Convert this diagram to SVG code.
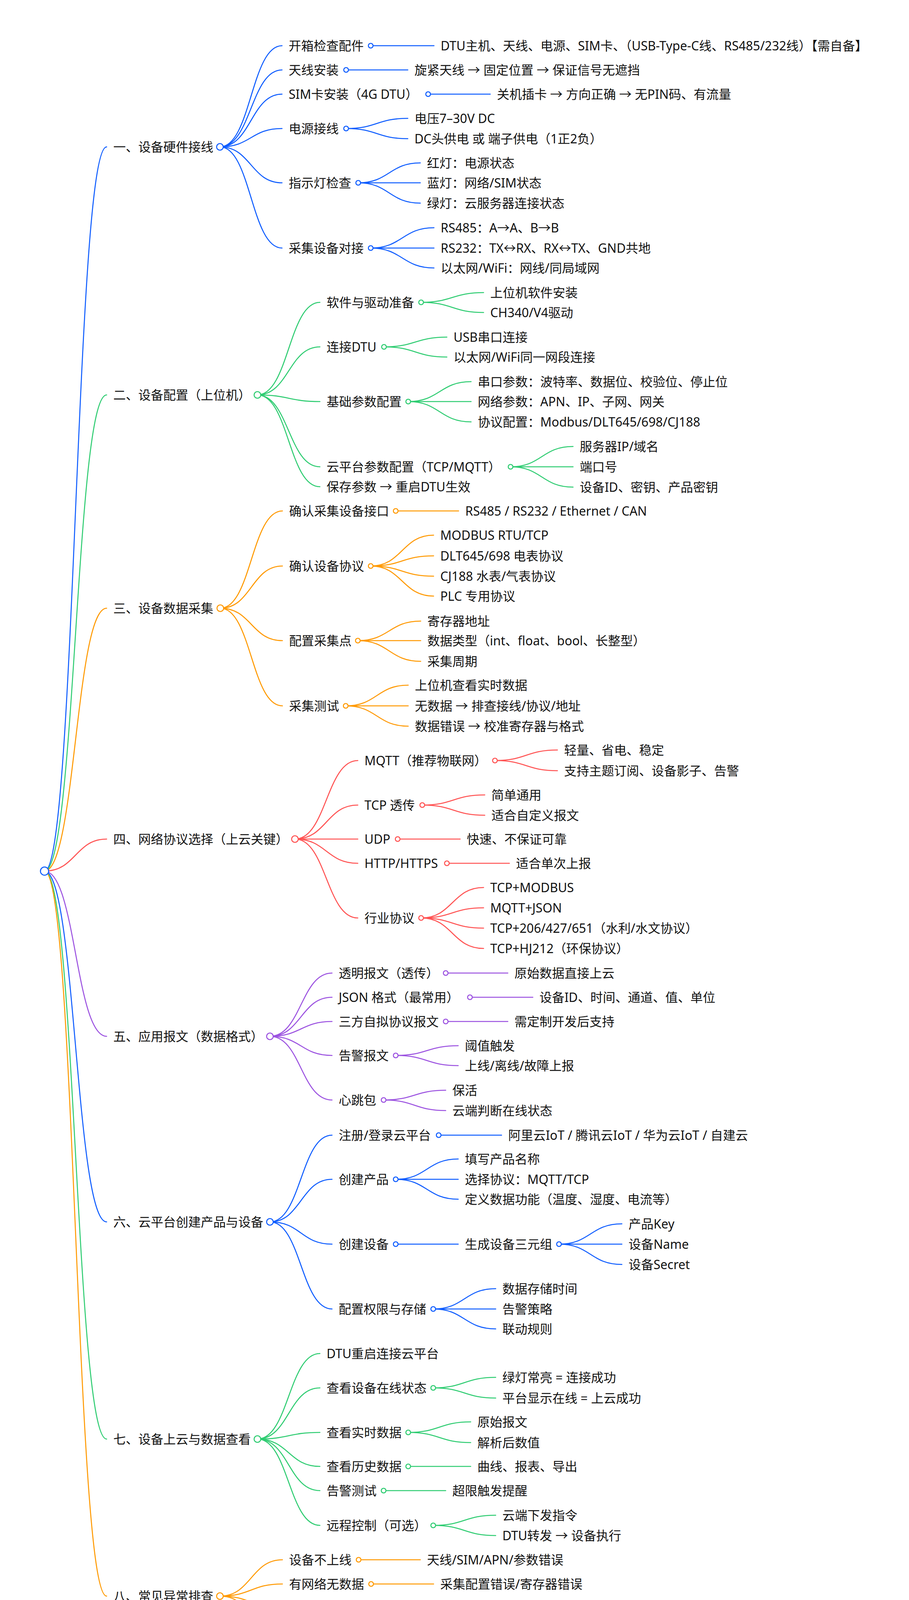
<svg xmlns="http://www.w3.org/2000/svg" width="2327" height="4296" viewBox="0 0 2327 4296">
<style>
text{font-family:"Noto Sans","Noto Sans CJK SC",sans-serif;font-size:32px;fill:#111}
path{fill:none;stroke-width:2.6;stroke-linecap:round}
circle{fill:#fff;stroke-width:2.6}
.b{stroke:#0d5cff}.g{stroke:#2ecc71}.o{stroke:#ff9900}.r{stroke:#ff5252}.p{stroke:#9b51e0}
</style>
<rect width="2327" height="4296" fill="#fff"/>
<g id="connectors">
<path class="b" d="M114 2230C193.5 2230 193.5 376 273 376"/>
<path class="g" d="M114 2230C193.5 2230 193.5 1011 273 1011"/>
<path class="o" d="M114 2230C193.5 2230 193.5 1557 273 1557"/>
<path class="r" d="M114 2230C193.5 2230 193.5 2148 273 2148"/>
<path class="p" d="M114 2230C193.5 2230 193.5 2653 273 2653"/>
<path class="b" d="M114 2230C193.5 2230 193.5 3128 273 3128"/>
<path class="g" d="M114 2230C193.5 2230 193.5 3684 273 3684"/>
<path class="o" d="M114 2230C193.5 2230 193.5 4086 273 4086"/>
<path class="b" d="M563 376C642.5 376 642.5 117 722 117"/>
<path class="b" d="M563 376C642.5 376 642.5 179 722 179"/>
<path class="b" d="M563 376C642.5 376 642.5 241 722 241"/>
<path class="b" d="M563 376C642.5 376 642.5 329 722 329"/>
<path class="b" d="M563 376C642.5 376 642.5 468 722 468"/>
<path class="b" d="M563 376C642.5 376 642.5 635 722 635"/>
<path class="b" d="M949 117H1111"/>
<path class="b" d="M886 179H1044"/>
<path class="b" d="M1096 241H1255"/>
<path class="b" d="M886 329C965 329 965 303 1044 303"/>
<path class="b" d="M886 329C965 329 965 355 1044 355"/>
<path class="b" d="M917 468C996.5 468 996.5 417 1076 417"/>
<path class="b" d="M917 468H1076"/>
<path class="b" d="M917 468C996.5 468 996.5 520 1076 520"/>
<path class="b" d="M949 635C1030 635 1030 583 1111 583"/>
<path class="b" d="M949 635H1111"/>
<path class="b" d="M949 635C1030 635 1030 686 1111 686"/>
<path class="g" d="M659 1011C739 1011 739 774 819 774"/>
<path class="g" d="M659 1011C739 1011 739 888 819 888"/>
<path class="g" d="M659 1011C739 1011 739 1028 819 1028"/>
<path class="g" d="M659 1011C739 1011 739 1195 819 1195"/>
<path class="g" d="M659 1011C739 1011 739 1246 819 1246"/>
<path class="g" d="M1078 774C1158 774 1158 749 1238 749"/>
<path class="g" d="M1078 774C1158 774 1158 800 1238 800"/>
<path class="g" d="M983 888C1063.5 888 1063.5 863 1144 863"/>
<path class="g" d="M983 888C1063.5 888 1063.5 914 1144 914"/>
<path class="g" d="M1045 1028C1125.5 1028 1125.5 977 1206 977"/>
<path class="g" d="M1045 1028H1206"/>
<path class="g" d="M1045 1028C1125.5 1028 1125.5 1080 1206 1080"/>
<path class="g" d="M1307 1195C1387 1195 1387 1143 1467 1143"/>
<path class="g" d="M1307 1195H1467"/>
<path class="g" d="M1307 1195C1387 1195 1387 1247 1467 1247"/>
<path class="o" d="M564 1557C643.5 1557 643.5 1308 723 1308"/>
<path class="o" d="M564 1557C643.5 1557 643.5 1449 723 1449"/>
<path class="o" d="M564 1557C643.5 1557 643.5 1640 723 1640"/>
<path class="o" d="M564 1557C643.5 1557 643.5 1807 723 1807"/>
<path class="o" d="M1013 1308H1174"/>
<path class="o" d="M949 1449C1029.5 1449 1029.5 1370 1110 1370"/>
<path class="o" d="M949 1449C1029.5 1449 1029.5 1423 1110 1423"/>
<path class="o" d="M949 1449C1029.5 1449 1029.5 1475 1110 1475"/>
<path class="o" d="M949 1449C1029.5 1449 1029.5 1526 1110 1526"/>
<path class="o" d="M916 1640C996.5 1640 996.5 1590 1077 1590"/>
<path class="o" d="M916 1640H1077"/>
<path class="o" d="M916 1640C996.5 1640 996.5 1693 1077 1693"/>
<path class="o" d="M885 1807C965 1807 965 1754 1045 1754"/>
<path class="o" d="M885 1807H1045"/>
<path class="o" d="M885 1807C965 1807 965 1859 1045 1859"/>
<path class="r" d="M755 2148C835.5 2148 835.5 1947 916 1947"/>
<path class="r" d="M755 2148C835.5 2148 835.5 2061 916 2061"/>
<path class="r" d="M755 2148H916"/>
<path class="r" d="M755 2148C835.5 2148 835.5 2210 916 2210"/>
<path class="r" d="M755 2148C835.5 2148 835.5 2350 916 2350"/>
<path class="r" d="M1267 1947C1347 1947 1347 1920 1427 1920"/>
<path class="r" d="M1267 1947C1347 1947 1347 1973 1427 1973"/>
<path class="r" d="M1081 2061C1161 2061 1161 2035 1241 2035"/>
<path class="r" d="M1081 2061C1161 2061 1161 2087 1241 2087"/>
<path class="r" d="M1018 2148H1178"/>
<path class="r" d="M1144 2210H1304"/>
<path class="r" d="M1078 2350C1158 2350 1158 2272 1238 2272"/>
<path class="r" d="M1078 2350C1158 2350 1158 2324 1238 2324"/>
<path class="r" d="M1078 2350C1158 2350 1158 2376 1238 2376"/>
<path class="r" d="M1078 2350C1158 2350 1158 2428 1238 2428"/>
<path class="p" d="M691 2653C770.5 2653 770.5 2491 850 2491"/>
<path class="p" d="M691 2653C770.5 2653 770.5 2553 850 2553"/>
<path class="p" d="M691 2653C770.5 2653 770.5 2615 850 2615"/>
<path class="p" d="M691 2653C770.5 2653 770.5 2702 850 2702"/>
<path class="p" d="M691 2653C770.5 2653 770.5 2816 850 2816"/>
<path class="p" d="M1141 2491H1300"/>
<path class="p" d="M1203 2553H1364"/>
<path class="p" d="M1141 2615H1300"/>
<path class="p" d="M1013 2702C1093 2702 1093 2677 1173 2677"/>
<path class="p" d="M1013 2702C1093 2702 1093 2728 1173 2728"/>
<path class="p" d="M982 2816C1061.5 2816 1061.5 2791 1141 2791"/>
<path class="p" d="M982 2816C1061.5 2816 1061.5 2843 1141 2843"/>
<path class="b" d="M691 3128C770.5 3128 770.5 2906 850 2906"/>
<path class="b" d="M691 3128C770.5 3128 770.5 3019 850 3019"/>
<path class="b" d="M691 3128C770.5 3128 770.5 3185 850 3185"/>
<path class="b" d="M691 3128C770.5 3128 770.5 3351 850 3351"/>
<path class="b" d="M1123 2906H1284"/>
<path class="b" d="M1013 3019C1093 3019 1093 2967 1173 2967"/>
<path class="b" d="M1013 3019H1173"/>
<path class="b" d="M1013 3019C1093 3019 1093 3070 1173 3070"/>
<path class="b" d="M1013 3185H1173"/>
<path class="b" d="M1431 3185C1511.5 3185 1511.5 3133 1592 3133"/>
<path class="b" d="M1431 3185H1592"/>
<path class="b" d="M1431 3185C1511.5 3185 1511.5 3237 1592 3237"/>
<path class="b" d="M1109 3351C1189 3351 1189 3299 1269 3299"/>
<path class="b" d="M1109 3351H1269"/>
<path class="b" d="M1109 3351C1189 3351 1189 3402 1269 3402"/>
<path class="g" d="M659 3684C739 3684 739 3465 819 3465"/>
<path class="g" d="M659 3684C739 3684 739 3553 819 3553"/>
<path class="g" d="M659 3684C739 3684 739 3667 819 3667"/>
<path class="g" d="M659 3684C739 3684 739 3754 819 3754"/>
<path class="g" d="M659 3684C739 3684 739 3816 819 3816"/>
<path class="g" d="M659 3684C739 3684 739 3905 819 3905"/>
<path class="g" d="M1109 3553C1189 3553 1189 3526 1269 3526"/>
<path class="g" d="M1109 3553C1189 3553 1189 3579 1269 3579"/>
<path class="g" d="M1045 3667C1125 3667 1125 3640 1205 3640"/>
<path class="g" d="M1045 3667C1125 3667 1125 3693 1205 3693"/>
<path class="g" d="M1045 3754H1205"/>
<path class="g" d="M982 3816H1141"/>
<path class="g" d="M1109 3905C1189 3905 1189 3879 1269 3879"/>
<path class="g" d="M1109 3905C1189 3905 1189 3931 1269 3931"/>
<path class="o" d="M563 4086C643 4086 643 3993 723 3993"/>
<path class="o" d="M563 4086C643 4086 643 4055 723 4055"/>
<path class="o" d="M563 4086C643 4086 643 4117 723 4117"/>
<path class="o" d="M563 4086C643 4086 643 4179 723 4179"/>
<path class="o" d="M918 3993H1076"/>
<path class="o" d="M950 4055H1110"/>
<path class="o" d="M885 4117H1044"/>
<path class="o" d="M885 4179H1044"/>
</g>

<g id="n0"><circle class="b" cx="114" cy="2230" r="10.5"/></g>

<g id="n1"><text x="290" y="388">一、设备硬件接线</text><circle class="b" cx="563" cy="376" r="8.5"/></g>
<g id="n1-1"><text x="739" y="129">开箱检查配件</text><circle class="b" cx="949" cy="117" r="6"/></g>
<g id="n1-1-1"><text x="1128" y="129">DTU主机、天线、电源、SIM卡、（USB-Type-C线、RS485/232线）【需自备】</text></g>
<g id="n1-2"><text x="739" y="191">天线安装</text><circle class="b" cx="886" cy="179" r="6"/></g>
<g id="n1-2-1"><text x="1061" y="191">旋紧天线 → 固定位置 → 保证信号无遮挡</text></g>
<g id="n1-3"><text x="739" y="253">SIM卡安装（4G DTU）</text><circle class="b" cx="1096" cy="241" r="6"/></g>
<g id="n1-3-1"><text x="1272" y="253">关机插卡 → 方向正确 → 无PIN码、有流量</text></g>
<g id="n1-4"><text x="739" y="341">电源接线</text><circle class="b" cx="886" cy="329" r="6"/></g>
<g id="n1-4-1"><text x="1061" y="315">电压7–30V DC</text></g>
<g id="n1-4-2"><text x="1061" y="367">DC头供电 或 端子供电（1正2负）</text></g>
<g id="n1-5"><text x="739" y="480">指示灯检查</text><circle class="b" cx="917" cy="468" r="6"/></g>
<g id="n1-5-1"><text x="1093" y="429">红灯：电源状态</text></g>
<g id="n1-5-2"><text x="1093" y="480">蓝灯：网络/SIM状态</text></g>
<g id="n1-5-3"><text x="1093" y="532">绿灯：云服务器连接状态</text></g>
<g id="n1-6"><text x="739" y="647">采集设备对接</text><circle class="b" cx="949" cy="635" r="6"/></g>
<g id="n1-6-1"><text x="1128" y="595">RS485：A→A、B→B</text></g>
<g id="n1-6-2"><text x="1128" y="647">RS232：TX↔RX、RX↔TX、GND共地</text></g>
<g id="n1-6-3"><text x="1128" y="698">以太网/WiFi：网线/同局域网</text></g>

<g id="n2"><text x="290" y="1023">二、设备配置（上位机）</text><circle class="g" cx="659" cy="1011" r="8.5"/></g>
<g id="n2-1"><text x="836" y="786">软件与驱动准备</text><circle class="g" cx="1078" cy="774" r="6"/></g>
<g id="n2-1-1"><text x="1255" y="761">上位机软件安装</text></g>
<g id="n2-1-2"><text x="1255" y="812">CH340/V4驱动</text></g>
<g id="n2-2"><text x="836" y="900">连接DTU</text><circle class="g" cx="983" cy="888" r="6"/></g>
<g id="n2-2-1"><text x="1161" y="875">USB串口连接</text></g>
<g id="n2-2-2"><text x="1161" y="926">以太网/WiFi同一网段连接</text></g>
<g id="n2-3"><text x="836" y="1040">基础参数配置</text><circle class="g" cx="1045" cy="1028" r="6"/></g>
<g id="n2-3-1"><text x="1223" y="989">串口参数：波特率、数据位、校验位、停止位</text></g>
<g id="n2-3-2"><text x="1223" y="1040">网络参数：APN、IP、子网、网关</text></g>
<g id="n2-3-3"><text x="1223" y="1092">协议配置：Modbus/DLT645/698/CJ188</text></g>
<g id="n2-4"><text x="836" y="1207">云平台参数配置（TCP/MQTT）</text><circle class="g" cx="1307" cy="1195" r="6"/></g>
<g id="n2-4-1"><text x="1484" y="1155">服务器IP/域名</text></g>
<g id="n2-4-2"><text x="1484" y="1207">端口号</text></g>
<g id="n2-4-3"><text x="1484" y="1259">设备ID、密钥、产品密钥</text></g>
<g id="n2-5"><text x="836" y="1258">保存参数 → 重启DTU生效</text></g>

<g id="n3"><text x="290" y="1569">三、设备数据采集</text><circle class="o" cx="564" cy="1557" r="8.5"/></g>
<g id="n3-1"><text x="740" y="1320">确认采集设备接口</text><circle class="o" cx="1013" cy="1308" r="6"/></g>
<g id="n3-1-1"><text x="1191" y="1320">RS485 / RS232 / Ethernet / CAN</text></g>
<g id="n3-2"><text x="740" y="1461">确认设备协议</text><circle class="o" cx="949" cy="1449" r="6"/></g>
<g id="n3-2-1"><text x="1127" y="1382">MODBUS RTU/TCP</text></g>
<g id="n3-2-2"><text x="1127" y="1435">DLT645/698 电表协议</text></g>
<g id="n3-2-3"><text x="1127" y="1487">CJ188 水表/气表协议</text></g>
<g id="n3-2-4"><text x="1127" y="1538">PLC 专用协议</text></g>
<g id="n3-3"><text x="740" y="1652">配置采集点</text><circle class="o" cx="916" cy="1640" r="6"/></g>
<g id="n3-3-1"><text x="1094" y="1602">寄存器地址</text></g>
<g id="n3-3-2"><text x="1094" y="1652">数据类型（int、float、bool、长整型）</text></g>
<g id="n3-3-3"><text x="1094" y="1705">采集周期</text></g>
<g id="n3-4"><text x="740" y="1819">采集测试</text><circle class="o" cx="885" cy="1807" r="6"/></g>
<g id="n3-4-1"><text x="1062" y="1766">上位机查看实时数据</text></g>
<g id="n3-4-2"><text x="1062" y="1819">无数据 → 排查接线/协议/地址</text></g>
<g id="n3-4-3"><text x="1062" y="1871">数据错误 → 校准寄存器与格式</text></g>

<g id="n4"><text x="290" y="2160">四、网络协议选择（上云关键）</text><circle class="r" cx="755" cy="2148" r="8.5"/></g>
<g id="n4-1"><text x="933" y="1959">MQTT（推荐物联网）</text><circle class="r" cx="1267" cy="1947" r="6"/></g>
<g id="n4-1-1"><text x="1444" y="1932">轻量、省电、稳定</text></g>
<g id="n4-1-2"><text x="1444" y="1985">支持主题订阅、设备影子、告警</text></g>
<g id="n4-2"><text x="933" y="2073">TCP 透传</text><circle class="r" cx="1081" cy="2061" r="6"/></g>
<g id="n4-2-1"><text x="1258" y="2047">简单通用</text></g>
<g id="n4-2-2"><text x="1258" y="2099">适合自定义报文</text></g>
<g id="n4-3"><text x="933" y="2160">UDP</text><circle class="r" cx="1018" cy="2148" r="6"/></g>
<g id="n4-3-1"><text x="1195" y="2160">快速、不保证可靠</text></g>
<g id="n4-4"><text x="933" y="2222">HTTP/HTTPS</text><circle class="r" cx="1144" cy="2210" r="6"/></g>
<g id="n4-4-1"><text x="1321" y="2222">适合单次上报</text></g>
<g id="n4-5"><text x="933" y="2362">行业协议</text><circle class="r" cx="1078" cy="2350" r="6"/></g>
<g id="n4-5-1"><text x="1255" y="2284">TCP+MODBUS</text></g>
<g id="n4-5-2"><text x="1255" y="2336">MQTT+JSON</text></g>
<g id="n4-5-3"><text x="1255" y="2388">TCP+206/427/651（水利/水文协议）</text></g>
<g id="n4-5-4"><text x="1255" y="2440">TCP+HJ212（环保协议）</text></g>

<g id="n5"><text x="290" y="2665">五、应用报文（数据格式）</text><circle class="p" cx="691" cy="2653" r="8.5"/></g>
<g id="n5-1"><text x="867" y="2503">透明报文（透传）</text><circle class="p" cx="1141" cy="2491" r="6"/></g>
<g id="n5-1-1"><text x="1317" y="2503">原始数据直接上云</text></g>
<g id="n5-2"><text x="867" y="2565">JSON 格式（最常用）</text><circle class="p" cx="1203" cy="2553" r="6"/></g>
<g id="n5-2-1"><text x="1381" y="2565">设备ID、时间、通道、值、单位</text></g>
<g id="n5-3"><text x="867" y="2627">三方自拟协议报文</text><circle class="p" cx="1141" cy="2615" r="6"/></g>
<g id="n5-3-1"><text x="1317" y="2627">需定制开发后支持</text></g>
<g id="n5-4"><text x="867" y="2714">告警报文</text><circle class="p" cx="1013" cy="2702" r="6"/></g>
<g id="n5-4-1"><text x="1190" y="2689">阈值触发</text></g>
<g id="n5-4-2"><text x="1190" y="2740">上线/离线/故障上报</text></g>
<g id="n5-5"><text x="867" y="2828">心跳包</text><circle class="p" cx="982" cy="2816" r="6"/></g>
<g id="n5-5-1"><text x="1158" y="2803">保活</text></g>
<g id="n5-5-2"><text x="1158" y="2855">云端判断在线状态</text></g>

<g id="n6"><text x="290" y="3140">六、云平台创建产品与设备</text><circle class="b" cx="691" cy="3128" r="8.5"/></g>
<g id="n6-1"><text x="867" y="2918">注册/登录云平台</text><circle class="b" cx="1123" cy="2906" r="6"/></g>
<g id="n6-1-1"><text x="1301" y="2918">阿里云IoT / 腾讯云IoT / 华为云IoT / 自建云</text></g>
<g id="n6-2"><text x="867" y="3031">创建产品</text><circle class="b" cx="1013" cy="3019" r="6"/></g>
<g id="n6-2-1"><text x="1190" y="2979">填写产品名称</text></g>
<g id="n6-2-2"><text x="1190" y="3031">选择协议：MQTT/TCP</text></g>
<g id="n6-2-3"><text x="1190" y="3082">定义数据功能（温度、湿度、电流等）</text></g>
<g id="n6-3"><text x="867" y="3197">创建设备</text><circle class="b" cx="1013" cy="3185" r="6"/></g>
<g id="n6-3-1"><text x="1190" y="3197">生成设备三元组</text><circle class="b" cx="1431" cy="3185" r="6"/></g>
<g id="n6-3-1-1"><text x="1609" y="3145">产品Key</text></g>
<g id="n6-3-1-2"><text x="1609" y="3197">设备Name</text></g>
<g id="n6-3-1-3"><text x="1609" y="3249">设备Secret</text></g>
<g id="n6-4"><text x="867" y="3363">配置权限与存储</text><circle class="b" cx="1109" cy="3351" r="6"/></g>
<g id="n6-4-1"><text x="1286" y="3311">数据存储时间</text></g>
<g id="n6-4-2"><text x="1286" y="3363">告警策略</text></g>
<g id="n6-4-3"><text x="1286" y="3414">联动规则</text></g>

<g id="n7"><text x="290" y="3696">七、设备上云与数据查看</text><circle class="g" cx="659" cy="3684" r="8.5"/></g>
<g id="n7-1"><text x="836" y="3477">DTU重启连接云平台</text></g>
<g id="n7-2"><text x="836" y="3565">查看设备在线状态</text><circle class="g" cx="1109" cy="3553" r="6"/></g>
<g id="n7-2-1"><text x="1286" y="3538">绿灯常亮 = 连接成功</text></g>
<g id="n7-2-2"><text x="1286" y="3591">平台显示在线 = 上云成功</text></g>
<g id="n7-3"><text x="836" y="3679">查看实时数据</text><circle class="g" cx="1045" cy="3667" r="6"/></g>
<g id="n7-3-1"><text x="1222" y="3652">原始报文</text></g>
<g id="n7-3-2"><text x="1222" y="3705">解析后数值</text></g>
<g id="n7-4"><text x="836" y="3766">查看历史数据</text><circle class="g" cx="1045" cy="3754" r="6"/></g>
<g id="n7-4-1"><text x="1222" y="3766">曲线、报表、导出</text></g>
<g id="n7-5"><text x="836" y="3828">告警测试</text><circle class="g" cx="982" cy="3816" r="6"/></g>
<g id="n7-5-1"><text x="1158" y="3828">超限触发提醒</text></g>
<g id="n7-6"><text x="836" y="3917">远程控制（可选）</text><circle class="g" cx="1109" cy="3905" r="6"/></g>
<g id="n7-6-1"><text x="1286" y="3891">云端下发指令</text></g>
<g id="n7-6-2"><text x="1286" y="3943">DTU转发 → 设备执行</text></g>

<g id="n8"><text x="290" y="4098">八、常见异常排查</text><circle class="o" cx="563" cy="4086" r="8.5"/></g>
<g id="n8-1"><text x="740" y="4005">设备不上线</text><circle class="o" cx="918" cy="3993" r="6"/></g>
<g id="n8-1-1"><text x="1093" y="4005">天线/SIM/APN/参数错误</text></g>
<g id="n8-2"><text x="740" y="4067">有网络无数据</text><circle class="o" cx="950" cy="4055" r="6"/></g>
<g id="n8-2-1"><text x="1127" y="4067">采集配置错误/寄存器错误</text></g>
<g id="n8-3"><text x="740" y="4129">数据乱码</text><circle class="o" cx="885" cy="4117" r="6"/></g>
<g id="n8-3-1"><text x="1061" y="4129">波特率不匹配/数据类型错误</text></g>
<g id="n8-4"><text x="740" y="4191">频繁掉线</text><circle class="o" cx="885" cy="4179" r="6"/></g>
<g id="n8-4-1"><text x="1061" y="4191">信号差/电源不稳/心跳异常</text></g>
</svg>
